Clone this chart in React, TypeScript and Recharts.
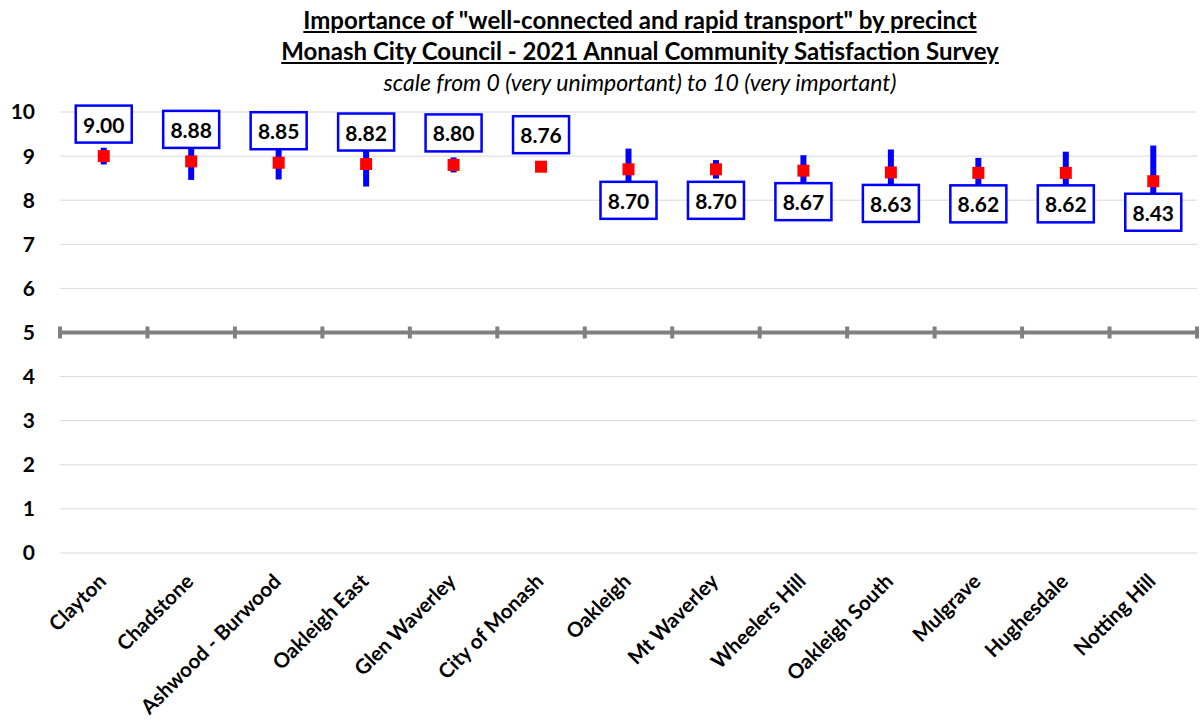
import React from "react";
import {
  ComposedChart,
  Line,
  ErrorBar,
  LabelList,
  XAxis,
  YAxis,
  CartesianGrid,
  ReferenceLine,
} from "recharts";

const precincts = [
  "Clayton",
  "Chadstone",
  "Ashwood - Burwood",
  "Oakleigh East",
  "Glen Waverley",
  "City of Monash",
  "Oakleigh",
  "Mt Waverley",
  "Wheelers Hill",
  "Oakleigh South",
  "Mulgrave",
  "Hughesdale",
  "Notting Hill",
];
const means = [9.0, 8.88, 8.85, 8.82, 8.8, 8.76, 8.7, 8.7, 8.67, 8.63, 8.62, 8.62, 8.43];
const errors = [0.19, 0.42, 0.38, 0.51, 0.17, 0.05, 0.47, 0.21, 0.35, 0.52, 0.34, 0.48, 0.81];
const labelAbove = [true, true, true, true, true, true, false, false, false, false, false, false, false];
const yTicks = [0, 1, 2, 3, 4, 5, 6, 7, 8, 9, 10];

const data = precincts.map((name, i) => ({
  name,
  mean: means[i],
  err: errors[i],
  above: labelAbove[i],
}));

const FONT = "Lato, 'Open Sans', sans-serif";

const SquareDot = (props: any) => {
  const { cx, cy } = props;
  if (cx == null || cy == null) return null;
  return <rect x={cx - 6} y={cy - 6} width={12} height={12} fill="#ff0000" />;
};

const ValueBox = (props: any) => {
  const { x, y, value, index } = props;
  const above = data[index]?.above;
  const cy = above ? y - 32 : y + 31;
  return (
    <g>
      <rect
        x={x - 28}
        y={cy - 18.5}
        width={56}
        height={37}
        fill="#fff"
        stroke="#0000ff"
        strokeWidth={2.5}
      />
      <text
        x={x}
        y={cy}
        textAnchor="middle"
        dominantBaseline="central"
        fontFamily={FONT}
        fontWeight={700}
        fontSize={21}
        fill="#000"
      >
        {Number(value).toFixed(2)}
      </text>
    </g>
  );
};

const XTick = (props: any) => {
  const { x, y, payload } = props;
  return (
    <g transform={`translate(${x - 2},${y + 16})`}>
      <text
        transform="rotate(-45)"
        textAnchor="end"
        dominantBaseline="central"
        fontFamily={FONT}
        fontWeight={700}
        fontSize={20.5}
        fill="#000"
      >
        {payload.value}
      </text>
    </g>
  );
};

const MidLine = (props: any) => {
  const { x1, x2, y1 } = props;
  if (x1 == null) return null;
  const n = precincts.length;
  const step = (x2 - x1) / n;
  const ticks = Array.from({ length: n + 1 }, (_, i) => x1 + i * step);
  return (
    <g>
      <line x1={x1 - 2} x2={x2 + 2} y1={y1} y2={y1} stroke="#808080" strokeWidth={4} />
      {ticks.map((tx, i) => (
        <line key={i} x1={tx} x2={tx} y1={y1 - 6} y2={y1 + 6} stroke="#808080" strokeWidth={4} />
      ))}
    </g>
  );
};

export default function App() {
  return (
    <div style={{ position: "absolute", left: 0, top: 0, width: 1203, height: 725, background: "#fff" }}>
      <div
        style={{
          position: "absolute",
          left: 640,
          top: 4,
          transform: "translateX(-50%)",
          whiteSpace: "nowrap",
          fontFamily: FONT,
          fontSize: 24,
          fontWeight: 700,
          textAlign: "center",
          lineHeight: "31px",
          textDecoration: "underline",
        }}
      >
        <div>Importance of "well-connected and rapid transport" by precinct</div>
        <div>Monash City Council - 2021 Annual Community Satisfaction Survey</div>
      </div>
      <div
        style={{
          position: "absolute",
          left: 640,
          top: 68,
          transform: "translateX(-50%)",
          whiteSpace: "nowrap",
          fontFamily: FONT,
          fontSize: 23,
          fontStyle: "italic",
        }}
      >
        scale from 0 (very unimportant) to 10 (very important)
      </div>
      <div style={{ position: "absolute", left: 0, top: 0 }}>
        <ComposedChart
          width={1203}
          height={725}
          data={data}
          margin={{ top: 112, right: 6, left: 0, bottom: 0 }}
        >
          <CartesianGrid vertical={false} stroke="#d9d9d9" strokeWidth={1} />
          <XAxis
            dataKey="name"
            scale="band"
            interval={0}
            axisLine={false}
            tickLine={false}
            height={172}
            tick={<XTick />}
          />
          <YAxis
            domain={[0, 10]}
            ticks={yTicks}
            width={60}
            axisLine={false}
            tickLine={false}
            tickSize={0}
            tickMargin={25}
            tick={{ fontFamily: FONT, fontWeight: 700, fontSize: 21, fill: "#000" }}
          />
          <ReferenceLine y={5} shape={<MidLine />} />
          <Line
            dataKey="mean"
            stroke="none"
            dot={<SquareDot />}
            activeDot={false}
            isAnimationActive={false}
          >
            <ErrorBar dataKey="err" direction="y" width={0} stroke="#0000ff" strokeWidth={6} />
            <LabelList dataKey="mean" content={<ValueBox />} />
          </Line>
        </ComposedChart>
      </div>
    </div>
  );
}
